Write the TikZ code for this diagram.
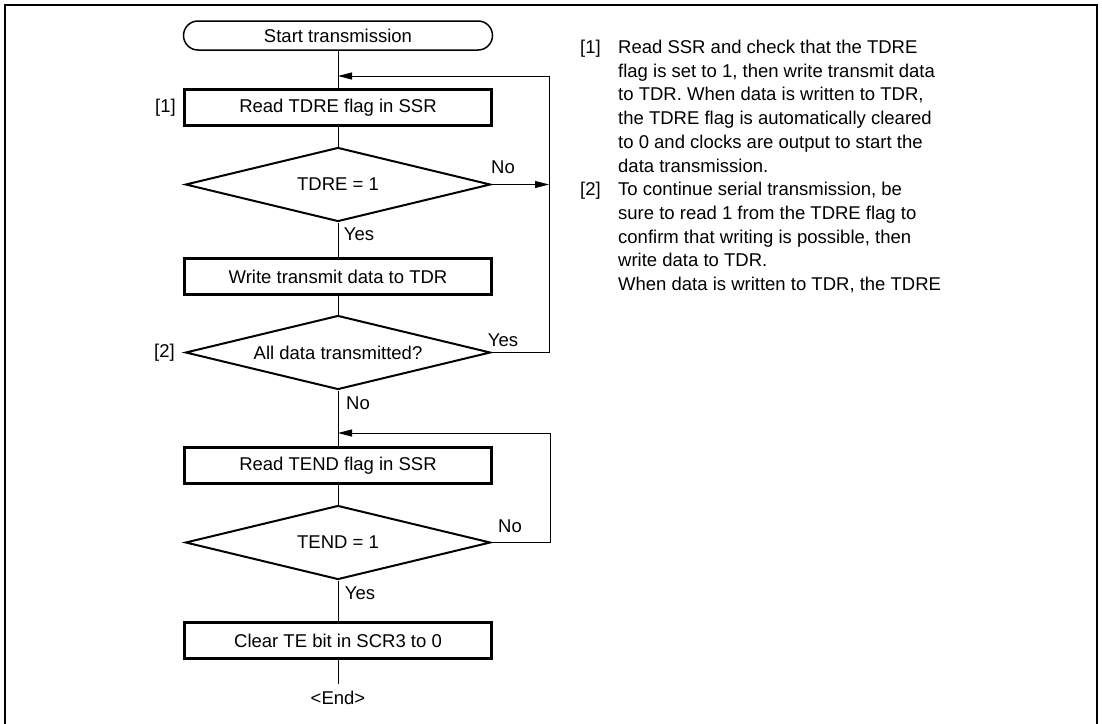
\documentclass[tikz,border=0pt]{standalone}
\usepackage{fontspec}
\setmainfont{Liberation Sans}
\usetikzlibrary{shapes.geometric,arrows.meta}

\tikzset{
    procbox/.style={draw, line width=2.2pt, minimum width=307pt, minimum height=36pt, inner sep=0pt},
    decision/.style={draw, diamond, line width=2pt, aspect=4.1, minimum width=305pt, minimum height=74pt, inner sep=0pt},
    termbox/.style={draw, line width=1.5pt, rounded corners=14.5pt, minimum width=309pt, minimum height=29pt, inner sep=0pt},
    flowline/.style={line width=1pt},
    flowarrow/.style={line width=1pt, -{Triangle[length=14pt,width=7pt]}},
    tag/.style={inner sep=0pt},
    noteline/.style={inner sep=0pt, anchor=base west}
}

\begin{document}
\begin{tikzpicture}[
        x=1pt, y=-1pt,
        every node/.style={
            font=\fontsize{18.5}{24}\selectfont
        }
    ]
        \useasboundingbox (0,0) rectangle (1102,723);
        % Frame
        \draw[line width=2.8pt] (5,740) -- (5,5) -- (1097,5) -- (1097,740);

        % FLOW
        \node[termbox] (start) at (338,35.5) {Start transmission};
        \node[procbox] (readtdre) at (338,107.5) {Read TDRE flag in SSR};
        \node[decision] (tdre) at (338,184.5) {TDRE = 1};
        \node[procbox] (write) at (338,276.5) {Write transmit data to TDR};
        \node[decision] (alldata) at (338,352.5) {All data transmitted?};
        \node[procbox] (readtend) at (338,465.5) {Read TEND flag in SSR};
        \node[decision] (tend) at (338,542.5) {TEND = 1};
        \node[procbox] (clearte) at (338,640.5) {Clear TE bit in SCR3 to 0};
        \node (finish) at (338,698) {<End>};

        \node[tag, anchor=east] (tag1) at (176,107.5) {[1]};
        \node[tag, anchor=east] (tag2) at (175,352.5) {[2]};

        % loop corners
        \coordinate (joina) at (338,76);
        \coordinate (loopa) at (549,76);
        \coordinate (joinb) at (338,433);
        \coordinate (loopb) at (550,433);
        \coordinate (stop) at (338,684);

        \draw[flowline] (start) -- (readtdre);
        \draw[flowline] (readtdre) -- (tdre);
        \draw[flowline] (tdre) -- (write);
        \draw[flowline] (write) -- (alldata);
        \draw[flowline] (alldata) -- (readtend);
        \draw[flowline] (readtend) -- (tend);
        \draw[flowline] (tend) -- (clearte);
        \draw[flowline] (clearte) -- (stop);

        \draw[flowarrow] (tdre.east) -- (tdre.east -| loopa);
        \draw[flowarrow] (alldata.east) -| (loopa) -- (joina);
        \draw[flowarrow] (tend.east) -| (loopb) -- (joinb);

        % branch labels
        \node (no1) at (503,167) {No};
        \node (yes1) at (359,234) {Yes};
        \node (yes2) at (503,340) {Yes};
        \node (no2) at (358,403) {No};
        \node (no3) at (510,526) {No};
        \node (yes3) at (360,593) {Yes};

        % NOTES
        \node[noteline] (note1tag) at (580,53.5) {[1]};
        \node[noteline] (note2tag) at (580,53.5+23.7*6) {[2]};
        \foreach \txt [count=\i from 0] in {
            {Read SSR and check that the TDRE},
            {flag is set to 1, then write transmit data},
            {to TDR. When data is written to TDR,},
            {the TDRE flag is automatically cleared},
            {to 0 and clocks are output to start the},
            {data transmission.},
            {To continue serial transmission, be},
            {sure to read 1 from the TDRE flag to},
            {confirm that writing is possible, then},
            {write data to TDR.},
            {When data is written to TDR, the TDRE}
        }
            \node[noteline] (note\i) at (618,53.5+23.7*\i) {\txt};
    \end{tikzpicture}
\end{document}
